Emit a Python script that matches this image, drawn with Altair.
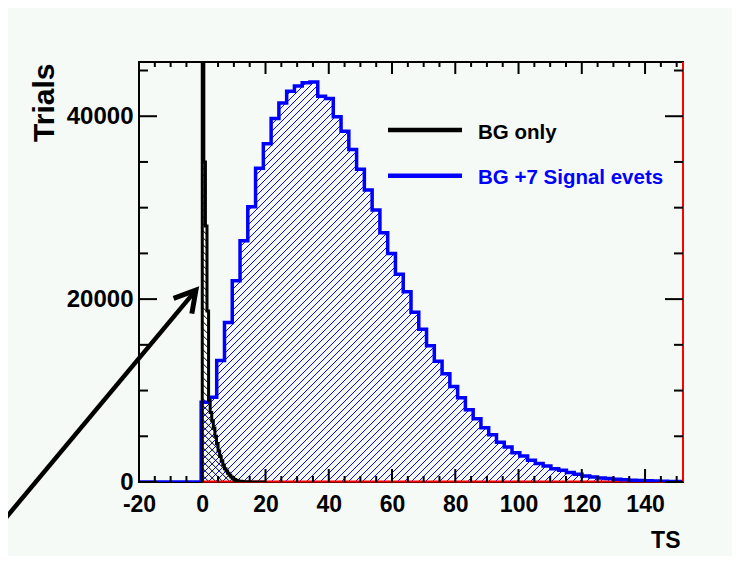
import math
import altair as alt
import numpy as np
import pandas as pd

# ---------------- data ----------------
# blue: "BG +7 Signal evets", 70 equal bins over [-20, 152]
blue_range = [-20.0, 152.0]
blue_counts = [0, 0, 0, 0, 0, 0, 0, 0,
               8730, 9270, 13280, 17450, 22000, 26370, 30110, 34300, 36980, 39750,
               41450, 42730, 43300, 43650, 43740, 42190, 41930, 39930, 38370, 36370,
               34190, 31930, 29750, 27270, 24980, 22730, 20800, 18550, 16700, 14910,
               13200, 11830, 10440, 9210, 7900, 6920, 5930, 5170, 4360, 3820,
               3210, 2840, 2370, 2010, 1750, 1460, 1280, 1030, 840, 660,
               545, 436, 370, 300, 250, 200, 160, 130, 100, 80, 60, 45]
# black: "BG only", 40 equal bins over [0, 20] (first bin runs off the top)
black_range = [0.0, 20.0]
black_counts = [95000, 35000, 28000, 18700, 8900, 7600, 6700, 5900, 5000, 4200,
                3400, 2800, 2300, 1850, 1460, 1200, 950, 750, 545, 400,
                280, 190, 130, 95, 70, 50, 36, 26, 18, 13,
                9, 7, 5, 4, 3, 2, 2, 1, 1, 0]

x_domain = [-20.0, 152.0]
y_domain = [0.0, 45930.0]

x_major_ticks = [-20, 0, 20, 40, 60, 80, 100, 120, 140]
x_minor_ticks = [-15, -10, -5, 5, 10, 15, 25, 30, 35, 45, 50, 55, 65, 70, 75,
                 85, 90, 95, 105, 110, 115, 125, 130, 135, 145, 150]
y_major_ticks = [0, 20000, 40000]
y_minor_ticks = [5000, 10000, 15000, 25000, 30000, 35000, 45000]

legend_labels = ["BG only", "BG +7 Signal evets"]
legend_colors = ["black", "blue"]

# annotation arrow (data coordinates): tail, head
arrow_ts = [-64.0, -2.0]
arrow_val = [-4700.0, 20980.0]

# ---------------- layout / style ----------------
W, H = 544, 420
BG = "#f6faf7"
FONT = "Liberation Sans, Arial, Helvetica, sans-serif"
sx = W / (x_domain[1] - x_domain[0])
sy = H / (y_domain[1] - y_domain[0])

xs = alt.Scale(domain=x_domain, nice=False, zero=False)
ys = alt.Scale(domain=y_domain, nice=False, zero=False)


def step_frame(rng, counts):
    edges = np.linspace(rng[0], rng[1], len(counts) + 1)
    tsv = [edges[0]] + list(edges[:-1]) + [edges[-1], edges[-1]]
    vv = [0] + list(counts) + [counts[-1], 0]
    return pd.DataFrame({"ts": tsv, "val": vv, "i": range(len(tsv))})


def hatch_frame(rng, counts, spacing_px, sign):
    edges = np.linspace(rng[0], rng[1], len(counts) + 1)
    px = [(e - x_domain[0]) * sx for e in edges]
    hp = [min(max(c, 0), y_domain[1]) * sy for c in counts]
    hmax = max(hp)
    if sign > 0:
        cs = np.arange(px[0] - hmax, px[-1], spacing_px)
    else:
        cs = np.arange(px[0], px[-1] + hmax, spacing_px)
    segs = []
    for c in cs:
        cur = None
        for k in range(len(hp)):
            xa, xb, h = px[k], px[k + 1], hp[k]
            if sign > 0:
                lo, hi = max(xa, c), min(xb, c + h)
            else:
                lo, hi = max(xa, c - h), min(xb, c)
            if h > 0 and hi - lo > 1e-9:
                if cur is not None and abs(cur[1] - lo) < 1e-6:
                    cur[1] = hi
                else:
                    if cur is not None:
                        segs.append(cur)
                    cur = [lo, hi, c]
            else:
                if cur is not None:
                    segs.append(cur)
                cur = None
        if cur is not None:
            segs.append(cur)
    rows = []
    for lo, hi, c in segs:
        ylo = (lo - c) if sign > 0 else (c - lo)
        yhi = (hi - c) if sign > 0 else (c - hi)
        rows.append({
            "x": x_domain[0] + lo / sx, "x2": x_domain[0] + hi / sx,
            "y": ylo / sy, "y2": yhi / sy,
        })
    return pd.DataFrame(rows)


blue_df = step_frame(blue_range, blue_counts)
black_df = step_frame(black_range, black_counts)
blue_hatch = hatch_frame(blue_range, blue_counts, 7.0, +1)
black_hatch = hatch_frame(black_range, black_counts, 7.0, -1)

# plain hyphen for negative labels (as in the original)
LABEL_EXPR = "datum.value < 0 ? '-' + abs(datum.value) : '' + datum.value"

x_axis = alt.Axis(
    values=x_major_ticks, labelExpr=LABEL_EXPR, ticks=False, domain=False, grid=False,
    labelFont=FONT, labelFontSize=23, labelFontWeight="bold", labelColor="black",
    labelPadding=11, labelFlush=False, labelOverlap=False,
    title="TS", titleFont=FONT, titleFontSize=23, titleFontWeight="bold",
    titleColor="black", titleX=541, titleY=65, titleAlign="right",
    titleBaseline="alphabetic")
y_axis = alt.Axis(
    values=y_major_ticks, labelExpr=LABEL_EXPR, ticks=False, domain=False, grid=False,
    labelFont=FONT, labelFontSize=24, labelFontWeight="bold", labelColor="black",
    labelPadding=6, labelFlush=False, labelOverlap=False,
    title="Trials", titleFont=FONT, titleFontSize=30,
    titleFontWeight="bold", titleColor="black", titleAngle=270,
    titleX=-86, titleY=1, titleAlign="right", titleBaseline="alphabetic")

layers = []

# blue outline drawn invisibly first: it carries the axes
layers.append(
    alt.Chart(blue_df).mark_line(opacity=0, interpolate="step-after").encode(
        x=alt.X("ts:Q", scale=xs, axis=x_axis),
        y=alt.Y("val:Q", scale=ys, axis=y_axis),
        order=alt.Order("i:Q"),
    )
)

# hatching
for hdf, col in [(blue_hatch, "blue"), (black_hatch, "black")]:
    layers.append(
        alt.Chart(hdf).mark_rule(color=col, strokeWidth=1, clip=True).encode(
            x=alt.X("x:Q", scale=xs),
            x2="x2:Q",
            y=alt.Y("y:Q", scale=ys),
            y2="y2:Q",
        )
    )

# red baseline
red_df = pd.DataFrame({"x0": [0.0], "x1": [x_domain[1]]})
layers.append(
    alt.Chart(red_df).mark_rule(color="red", strokeWidth=2).encode(
        x=alt.X("x0:Q", scale=xs), x2="x1:Q", y=alt.value(H - 0.5)
    )
)

# blue outline
layers.append(
    alt.Chart(blue_df).mark_line(
        color="blue", strokeWidth=3.5, interpolate="step-after", clip=True
    ).encode(
        x=alt.X("ts:Q", scale=xs),
        y=alt.Y("val:Q", scale=ys),
        order=alt.Order("i:Q"),
    )
)

# black outline
layers.append(
    alt.Chart(black_df).mark_line(
        color="black", strokeWidth=3, interpolate="step-after", clip=True
    ).encode(
        x=alt.X("ts:Q", scale=xs),
        y=alt.Y("val:Q", scale=ys),
        order=alt.Order("i:Q"),
    )
)

# red right edge of the frame
layers.append(
    alt.Chart(red_df).mark_rule(color="red", strokeWidth=2).encode(
        x=alt.value(W), y=alt.value(0), y2=alt.value(H)
    )
)

# ticks (ROOT-style, pointing inward, mirrored on all four sides)
for vals, ln in [(x_major_ticks, 13), (x_minor_ticks, 6)]:
    tdf = pd.DataFrame({"v": vals})
    layers.append(alt.Chart(tdf).mark_rule(color="black", strokeWidth=2).encode(
        x=alt.X("v:Q", scale=xs), y=alt.value(H), y2=alt.value(H - ln)))
    layers.append(alt.Chart(tdf).mark_rule(color="black", strokeWidth=2).encode(
        x=alt.X("v:Q", scale=xs), y=alt.value(0), y2=alt.value(ln - 1)))
for vals, ln in [(y_major_ticks, 18), (y_minor_ticks, 9)]:
    tdf = pd.DataFrame({"v": vals})
    layers.append(alt.Chart(tdf).mark_rule(color="black", strokeWidth=2).encode(
        y=alt.Y("v:Q", scale=ys), x=alt.value(0), x2=alt.value(ln)))
    layers.append(alt.Chart(tdf).mark_rule(color="black", strokeWidth=2).encode(
        y=alt.Y("v:Q", scale=ys), x=alt.value(W), x2=alt.value(W - ln)))

# legend (drawn by hand: label text takes the series colour)
for i, (lab, col) in enumerate(zip(legend_labels, legend_colors)):
    ldf = pd.DataFrame({"label": [lab]})
    layers.append(alt.Chart(ldf).mark_rule(color=col, strokeWidth=4.5).encode(
        x=alt.value(249), x2=alt.value(323), y=alt.value(68 + 45.7 * i)))
    layers.append(alt.Chart(ldf).mark_text(
        color=col, font=FONT, fontSize=20.5, fontWeight="bold",
        align="left", baseline="alphabetic").encode(
        x=alt.value(339), y=alt.value(77 + 45 * i), text="label:N"))

# arrow annotation
arrow_df = pd.DataFrame({"ts": arrow_ts, "val": arrow_val, "i": [0, 1]})
dxp = (arrow_ts[1] - arrow_ts[0]) * sx
dyp = (arrow_val[1] - arrow_val[0]) * sy
arrow_angle = math.degrees(math.atan2(dxp, dyp))
layers.append(alt.Chart(arrow_df).mark_line(
    color="black", strokeWidth=4.5, clip=False).encode(
    x=alt.X("ts:Q", scale=xs),
    y=alt.Y("val:Q", scale=ys),
    order=alt.Order("i:Q")))
layers.append(alt.Chart(arrow_df.iloc[[1]]).mark_point(
    shape="M -0.577 1 L 0 0 L 0.577 1", size=1700, angle=arrow_angle,
    filled=False, stroke="black", strokeWidth=5, opacity=1, clip=False,
    strokeJoin="miter").encode(
    x=alt.X("ts:Q", scale=xs),
    y=alt.Y("val:Q", scale=ys)))

chart = alt.layer(*layers).properties(
    width=W, height=H,
    padding={"left": 131, "top": 54, "right": 49, "bottom": 74},
    autosize=alt.AutoSizeParams(type="none"),
    background=BG,
).configure_view(stroke="black", strokeWidth=2)

chart.save("out.html", embed_options={"renderer": "svg", "actions": False})
